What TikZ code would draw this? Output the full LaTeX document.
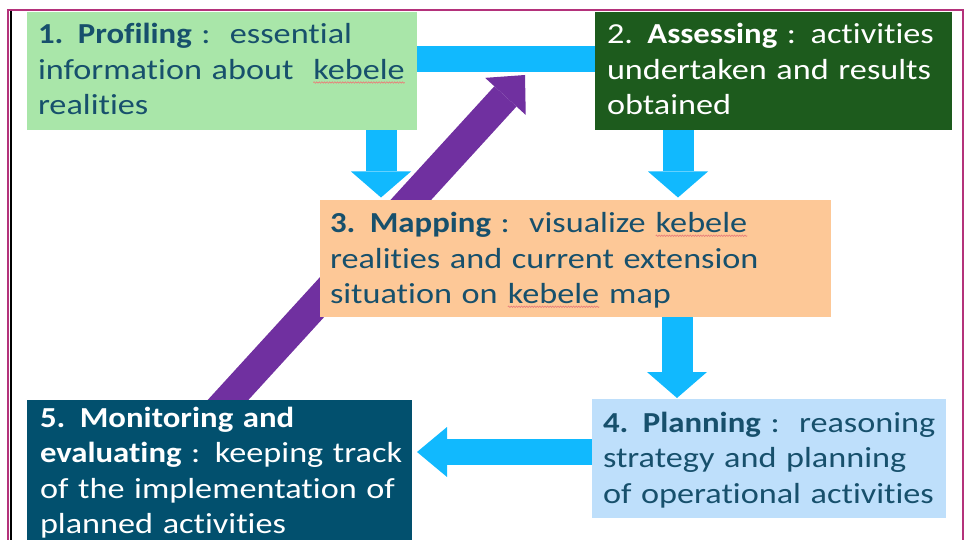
\documentclass[tikz,border=0pt]{standalone}
\usepackage{fontspec}
\newfontfamily\diag{Carlito}[FakeStretch=1.18, Ligatures=NoCommon,
  BoldFont={Carlito Bold}, BoldFeatures={FakeStretch=1.13}]
\usetikzlibrary{arrows.meta,backgrounds,decorations.pathmorphing}
\setlength\parindent{0pt}

\definecolor{framecol}{HTML}{B4327B}
\definecolor{profilefill}{HTML}{A9E6A9}
\definecolor{assessfill}{HTML}{1D5B1D}
\definecolor{mapfill}{HTML}{FDC897}
\definecolor{planfill}{HTML}{BEDFFB}
\definecolor{monitorfill}{HTML}{02506E}
\definecolor{inkteal}{HTML}{17506C}
\definecolor{flowblue}{HTML}{11B9FE}
\definecolor{loopviolet}{HTML}{7030A0}
\definecolor{spellred}{HTML}{E8807A}

\tikzset{
  panel/.style={rectangle, inner sep=0pt, outer sep=0pt, anchor=north west, draw=none},
  stagetext/.style={inner sep=0pt, outer sep=0pt, anchor=north west, align=left,
    text width=430pt, font=\diag\fontsize{29pt}{35.5pt}\selectfont},
  spellmark/.style={spellred, line width=0.7pt,
    decorate, decoration={snake, amplitude=0.7pt, segment length=2.6pt}},
  vflow/.style={flowblue, line width=31pt,
    -{Triangle[length=26pt, width=60pt, line width=0pt]}},
  hflow/.style={flowblue, line width=26pt,
    -{Triangle[length=30pt, width=50pt, line width=0pt]}},
  linkbar/.style={flowblue, line width=26pt},
  loopback/.style={loopviolet, line width=30pt,
    -{Triangle[length=29pt, width=55pt, line width=0pt]}},
}

% wavy spell-check mark under a word
\newcommand\squig[1]{\tikz[baseline=(w.base)]{\node[inner sep=0pt,outer sep=0pt,anchor=base](w){#1};\draw[spellmark]([yshift=-3pt]w.base west)--([yshift=-3pt]w.base east);}}

\begin{document}
\begin{tikzpicture}[x=1pt,y=-1pt]
\useasboundingbox (0,0) rectangle (969,540);

% outer frame
\draw[framecol, line width=2pt] (8,570) -- (8,10) -- (963,10) -- (963,570);
\draw[black, line width=1.3pt] (11,11) -- (11,570);

% stage panels
\node[panel, fill=profilefill, minimum width=390pt, minimum height=118pt] (b1) at (27,12) {};
\node[panel, fill=assessfill,  minimum width=357pt, minimum height=118pt] (b2) at (595,12) {};
\node[panel, fill=mapfill,     minimum width=511pt, minimum height=117pt] (b3) at (320,200) {};
\node[panel, fill=planfill,    minimum width=354pt, minimum height=119pt] (b4) at (592,399) {};
\node[panel, fill=monitorfill, minimum width=385pt, minimum height=170pt] (b5) at (27,400) {};

% stage descriptions
\node[stagetext, text=inkteal] (t1) at (38,19.15)
  {\strut\textbf{1. Profiling} :\ \ essential\\ information about\ \ \squig{kebele}\\ realities};
\node[stagetext, text=white] (t2) at (607,19.15)
  {\strut 2. \textbf{Assessing} : activities\\ undertaken and results\\ obtained};
\node[stagetext, text=inkteal] (t3) at (330,207.9)
  {\strut\textbf{3. Mapping} :\ \ visualize \squig{kebele}\\ realities and current extension\\ situation on \squig{kebele} map};
\node[stagetext, text=inkteal] (t4) at (603,407.2)
  {\strut\textbf{4. Planning} :\ \ reasoning\\ strategy and planning\\ of operational activities};
\node[stagetext, text=white] (t5) at (40,402.2)
  {\strut\textbf{5. Monitoring and}\\ \textbf{evaluating} : keeping track\\ of the implementation of\\ planned activities};

% connectors
\begin{scope}[on background layer]
  \coordinate (barL) at ([yshift=12pt]b1.east);
  \draw[linkbar] (barL) -- (barL -| b2.west);

  \coordinate (a13) at ([xshift=159pt]b1.south);
  \draw[vflow, shorten >=2.5pt] (a13) -- (a13 |- b3.north);

  \coordinate (a23) at ([xshift=-95.5pt]b2.south);
  \draw[vflow, shorten >=2.5pt] (a23) -- (a23 |- b3.north);

  \coordinate (a34) at ([xshift=101.5pt]b3.south);
  \draw[vflow, shorten >=1pt] (a34) -- (a34 |- b4.north);

  \coordinate (a45) at ([yshift=6.5pt]b4.west);
  \draw[hflow, shorten >=5pt] (a45) -- (a45 -| b5.east);

  \coordinate (a51) at ([xshift=-8.4pt,yshift=-18.5pt]b5.north);
  \coordinate (loopend) at (525,75);
  \draw[loopback] (a51) -- (loopend);
\end{scope}
\end{tikzpicture}
\end{document}
